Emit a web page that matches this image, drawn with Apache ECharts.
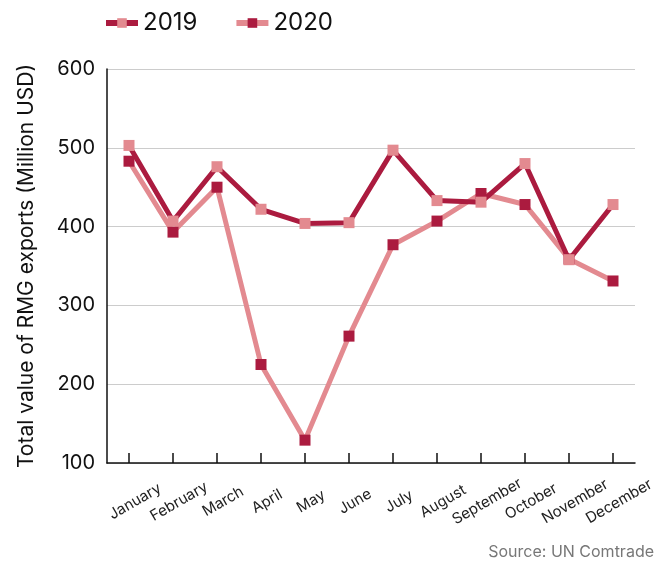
<!DOCTYPE html>
<html>
<head>
<meta charset="utf-8">
<script src="https://cdn.jsdelivr.net/npm/echarts@6/dist/echarts.min.js"></script>
<style>
  html, body { margin: 0; padding: 0; background: #fff; }
  #chart { width: 670px; height: 562px; }
</style>
</head>
<body>
<div id="chart"></div>
<script>
const months = ['January', 'February', 'March', 'April', 'May', 'June',
  'July', 'August', 'September', 'October', 'November', 'December'];
const exports2019 = [503, 407, 476, 422, 404, 405, 497, 433, 431, 480, 358, 428];
const exports2020 = [483, 393, 450, 225, 129, 261, 377, 407, 442, 428, 359, 331];

const DARK = '#ab1b3f';
const LIGHT = '#e38a90';
const FONT = 'Inter';

const chart = echarts.init(document.getElementById('chart'));

chart.setOption({
  animation: false,
  textStyle: { fontFamily: FONT },
  grid: { left: 107, right: 35, top: 69, bottom: 99 },
  legend: {
    data: ['2019', '2020'],
    left: 98,
    top: 6,
    itemWidth: 32,
    itemHeight: 12,
    itemGap: 36,
    lineStyle: { width: 6 },
    textStyle: { fontSize: 24, color: '#111', fontFamily: FONT }
  },
  xAxis: {
    type: 'category',
    data: months,
    boundaryGap: true,
    axisLine: { lineStyle: { color: '#111', width: 1.5 } },
    axisTick: { show: true, alignWithLabel: true, inside: true, length: 10, lineStyle: { color: '#111', width: 1.5 } },
    axisLabel: {
      rotate: 30,
      interval: 0,
      align: 'center',
      verticalAlign: 'middle',
      margin: 42,
      padding: [0, 0, 0, 14],
      fontSize: 15,
      color: '#222',
      fontFamily: FONT
    }
  },
  yAxis: {
    type: 'value',
    min: 100,
    max: 600,
    interval: 100,
    name: 'Total value of RMG exports (Million USD)',
    nameLocation: 'middle',
    nameGap: 70,
    nameTextStyle: { fontSize: 21, color: '#111', fontFamily: FONT },
    axisLine: { show: true, lineStyle: { color: '#111', width: 1.5 } },
    axisTick: { show: false },
    axisLabel: { fontSize: 20, color: '#111', margin: 12, fontFamily: FONT },
    splitLine: { lineStyle: { color: '#cccccc', width: 1 } }
  },
  series: [
    {
      name: '2020',
      type: 'line',
      data: exports2020,
      symbol: 'rect',
      symbolSize: 11,
      lineStyle: { color: LIGHT, width: 5 },
      itemStyle: { color: DARK, borderWidth: 0 }
    },
    {
      name: '2019',
      type: 'line',
      data: exports2019,
      symbol: 'rect',
      symbolSize: 11,
      lineStyle: { color: DARK, width: 5 },
      itemStyle: { color: LIGHT, borderWidth: 0 }
    }
  ],
  graphic: [
    {
      type: 'text',
      right: 16,
      top: 544,
      style: { text: 'Source: UN Comtrade', fontSize: 16, fill: '#777', fontFamily: FONT }
    }
  ]
});
</script>
</body>
</html>
